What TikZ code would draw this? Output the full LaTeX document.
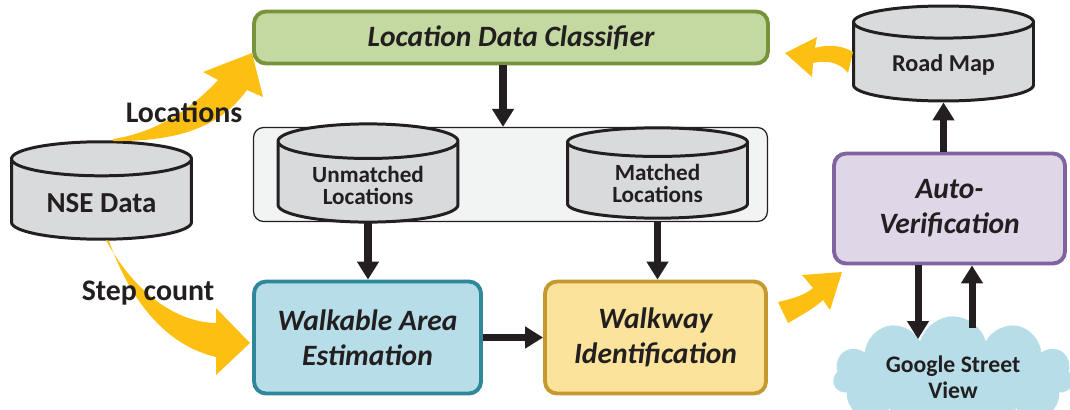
\documentclass[tikz,border=0pt]{standalone}
\usepackage{fontspec}
\setmainfont{Carlito}
\usetikzlibrary{arrows.meta,shapes.geometric,shapes.symbols}
\definecolor{ink}{HTML}{231F20}
\definecolor{dbgray}{HTML}{D9DADB}
\definecolor{contgray}{HTML}{F2F3F3}
\definecolor{greenfill}{HTML}{C4D9A2}
\definecolor{greenline}{HTML}{77933C}
\definecolor{purfill}{HTML}{DFD6E8}
\definecolor{purline}{HTML}{8064A2}
\definecolor{bluefill}{HTML}{B7DEE8}
\definecolor{blueline}{HTML}{2E879B}
\definecolor{yelfill}{HTML}{FBE39B}
\definecolor{yelline}{HTML}{C6992F}
\definecolor{fatyellow}{HTML}{FCBF12}

\begin{document}
\begin{tikzpicture}[x=0.02cm,y=-0.02cm,
    box/.style={rounded corners=0.24cm,line width=2.2pt,align=center,text=ink,
      font=\fontsize{16.8}{20}\selectfont\bfseries\itshape},
    db/.style={cylinder,shape border rotate=90,aspect=0.28,draw=ink,line width=1.7pt,
      fill=dbgray,align=center,text=ink,minimum width=3.6cm,anchor=shape center},
    blk/.style={draw=ink,line width=4pt,-{Triangle[width=0.42cm,length=0.36cm]}},
    fat/.style={fill=fatyellow},
    lbl/.style={text=ink,font=\fontsize{17}{20}\selectfont\bfseries}]
  \useasboundingbox (0,0) rectangle (1070,409);

  % boxes
  \node[box,draw=greenline,fill=greenfill,minimum width=10.28cm,minimum height=1.04cm] (ldc) at (511,37.5) {Location Data Classifier};
  \node[draw=ink,line width=0.7pt,fill=contgray,rounded corners=0.2cm,
    minimum width=10.28cm,minimum height=1.88cm] (cont) at (510.5,174.5) {};
  \node[box,draw=purline,fill=purfill,minimum width=4.62cm,minimum height=2.2cm] (av) at (949.5,208.5) {Auto-\\Verification};
  \node[box,draw=blueline,fill=bluefill,minimum width=4.54cm,minimum height=2.24cm] (wae) at (367.5,337.5) {Walkable Area\\Estimation};
  \node[box,draw=yelline,fill=yelfill,minimum width=4.42cm,minimum height=2.24cm] (wid) at (655.5,337.5) {Walkway\\Identification};

  % databases
  \node[db,minimum height=1.95cm,font=\fontsize{16.5}{20}\selectfont\bfseries] (nse) at (101.5,190.5) {NSE Data};
  \node[db,minimum height=1.9cm,font=\fontsize{13.8}{16}\selectfont\bfseries] (rm) at (943.5,53.5) {Road Map};
  \node[db,minimum height=1.48cm,font=\fontsize{13.2}{13}\selectfont\bfseries] (unm) at (368,173) {Unmatched\\Locations};
  \node[db,minimum height=1.48cm,font=\fontsize{13.2}{13}\selectfont\bfseries] (mat) at (657.5,173) {Matched\\Locations};

  % cloud
  \node[cloud,cloud puffs=11,aspect=2.8,fill=bluefill,minimum width=4.8cm,minimum height=1cm,
    align=center,text=ink,font=\fontsize{13.5}{15}\selectfont\bfseries] (gsv) at (953,377) {Google Street\\View};

  % yellow arrows
  \fill[fat] (113,139) .. controls (160,132) and (195,105) .. (218,80) -- (203,72) -- (252,53)
    -- (263,97) -- (247,90) .. controls (225,120) and (190,142) .. (113,141) -- cycle;
  \fill[fat] (106,240) .. controls (130,285) and (170,322) .. (216,323) -- (216,308) -- (250,343)
    -- (216,375) -- (216,357) .. controls (165,345) and (130,300) .. (109,241) -- cycle;
  \fill[fat] (853,52) .. controls (840,44) and (825,45) .. (815,48) -- (817,37) -- (785,53)
    -- (812,77) -- (813,63) .. controls (825,60) and (840,62) .. (848,73) -- cycle;
  \fill[fat] (778,302) .. controls (792,299) and (805,295) .. (813,288) -- (802,275) -- (842,272)
    -- (830,310) -- (823,300) .. controls (815,308) and (800,316) .. (788,323) -- cycle;

  % labels
  \node[lbl] (loc) at (184,112) {Locations};
  \node[lbl] (stc) at (148,293) {Step count};

  % black arrows
  \draw[blk] ([xshift=-0.16cm]ldc.south) -- ([xshift=-0.16cm]ldc.south |- cont.north);
  \draw[blk] (unm.south |- cont.south) -- (unm.south |- wae.north);
  \draw[blk] (mat.south |- cont.south) -- (mat.south |- wid.north);
  \draw[blk] (wae.east) -- (wid.west);
  \draw[blk] (av.north -| rm.south) -- (rm.south);
  \draw[blk] ([xshift=-0.63cm]av.south) -- ([xshift=-0.63cm,yshift=0.76cm]av.south |- gsv.center);
  \draw[blk] ([xshift=0.45cm,yshift=0.98cm]av.south |- gsv.center) -- ([xshift=0.45cm]av.south);
\end{tikzpicture}
\end{document}
